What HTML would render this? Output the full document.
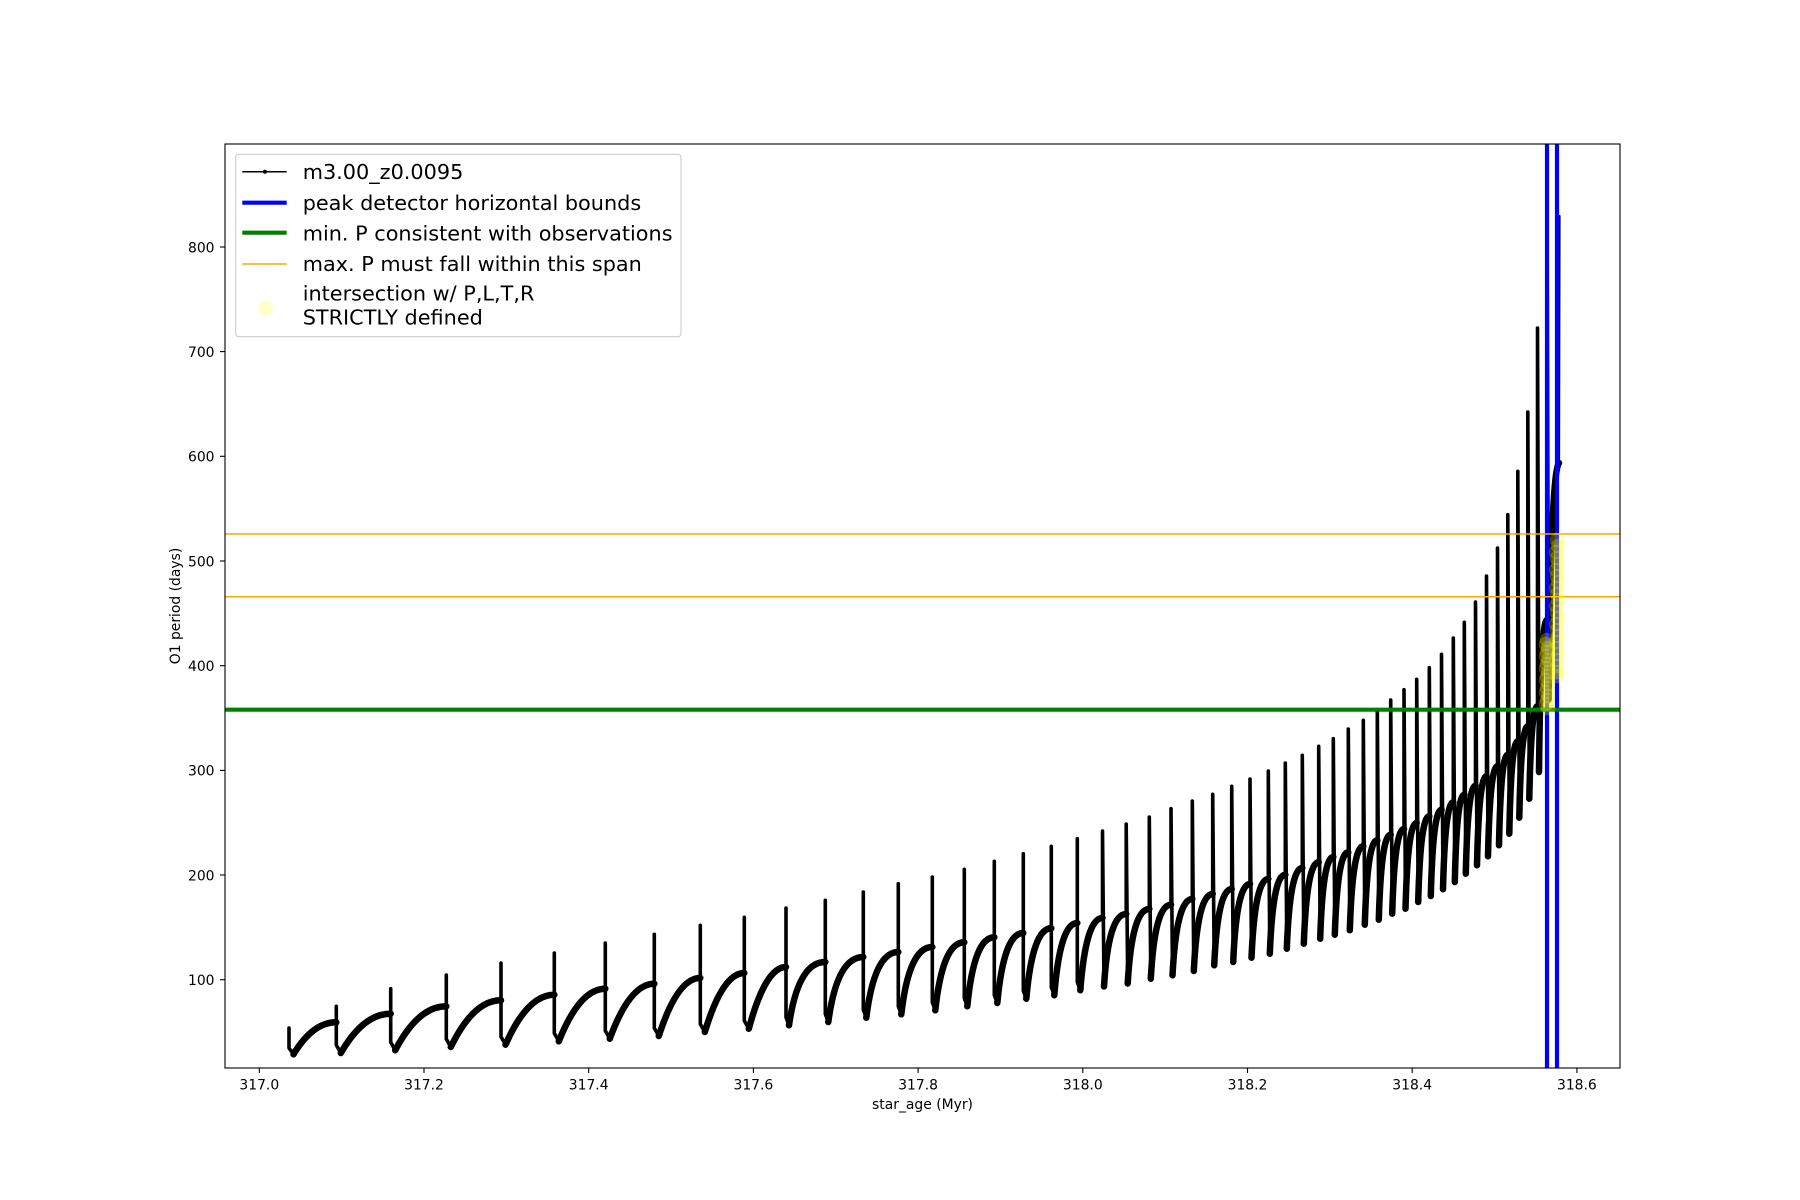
<!DOCTYPE html>
<html>
<head>
<meta charset="utf-8">
<style>
html,body{margin:0;padding:0;background:#fff;}
svg{display:block;}
text{font-family:"DejaVu Sans","Liberation Sans",sans-serif;fill:#000;}
</style>
</head>
<body>
<svg width="1800" height="1200" viewBox="0 0 1800 1200" xmlns="http://www.w3.org/2000/svg">
<rect x="0" y="0" width="1800" height="1200" fill="#fff"/>
<path fill="none" stroke="#000" stroke-width="6.5" stroke-linecap="round" stroke-linejoin="round" d="M293.5,1054.3 Q312.8,1022.3 336.3,1022.3 M340.8,1053 Q363.3,1013.7 390.7,1013.7 M395.2,1050.3 Q418.2,1006.3 446.3,1006.3 M450.8,1047 Q473.4,1000.3 501,1000.3 M505.5,1044.7 Q527.5,994.7 554.3,994.7 M558.8,1041.3 Q579.7,988.7 605.3,988.7 M609.8,1038.7 Q629.8,983.7 654.3,983.7 M658.8,1036 Q677.5,978 700.3,978 M704.8,1032 Q722.6,973 744.3,973 M748.8,1028.7 Q765.5,967 786,967 M789,1025.3 Q798.1,962 825.3,962 M828.3,1022 Q837,957 863.3,957 M866.3,1017.7 Q874.3,952 898.3,952 M901.3,1014.3 Q909,947 932.3,947 M935.3,1010.3 Q942.5,942.3 964.3,942.3 M967.3,1006.3 Q974,937.3 994.3,937.3 M997.3,1003 Q1003.8,933 1023.3,933 M1026.3,998.7 Q1032.5,928.3 1051.3,928.3 M1054.3,995.3 Q1060,923 1077.3,923 M1080.3,990.3 Q1085.9,918 1102.5,918 M1104,986.5 Q1108.4,914 1126.2,914 M1127.7,983.5 Q1132,909 1149.3,909 M1150.8,978.7 Q1154.8,904.7 1171,904.7 M1172.5,975.3 Q1176.5,899 1192.3,899 M1193.8,971 Q1197.6,894 1212.7,894 M1214.2,965.3 Q1217.7,889 1231.7,889 M1233.2,962 Q1236.6,884 1250,884 M1251.5,957.7 Q1254.9,879 1268.3,879 M1269.8,953.7 Q1272.9,874.7 1285.3,874.7 M1286.8,948.7 Q1289.9,868 1302.3,868 M1303.8,943.7 Q1306.8,862.3 1318.7,862.3 M1320.2,938.7 Q1322.8,857 1333.3,857 M1334.8,934.7 Q1337.5,852.3 1348.3,852.3 M1349.8,930.3 Q1352.5,846.3 1363.3,846.3 M1364.8,924.7 Q1367.3,840.3 1377.3,840.3 M1378.8,919.7 Q1381.2,834.7 1390.7,834.7 M1392.2,913.7 Q1394.6,829 1404,829 M1405.5,908.7 Q1407.7,823 1416.7,823 M1418.2,902 Q1420.4,816.3 1429.3,816.3 M1430.8,896 Q1433,809.7 1441.5,809.7 M1443,889.3 Q1445.1,802.3 1453.3,802.3 M1454.8,882 Q1456.7,794.7 1464.3,794.7 M1465.8,873.7 Q1467.7,785.7 1475.5,785.7 M1477,865.3 Q1478.9,776.3 1486.5,776.3 M1488,856.3 Q1489.9,766.3 1497.5,766.3 M1499,845.3 Q1500.8,754.7 1507.8,754.7 M1509.3,833.7 Q1511,741.3 1517.8,741.3 M1519.3,817.7 Q1521,726.3 1527.8,726.3 M1529.3,798.7 Q1531,706.3 1537.5,706.3 M1539,772 Q1540.6,620 1547,620 M1548.5,700 Q1551,470 1559,463"/>
<path fill="none" stroke="#000" stroke-width="3.6" stroke-linecap="round" stroke-linejoin="round" d="M289,1028 L289,1048 L293.5,1054.3 M336.3,1022.3 L336.3,1006.3 L336.3,1045 L340.8,1053 M390.7,1013.7 L390.7,988.7 L390.7,1042.3 L395.2,1050.3 M446.3,1006.3 L446.3,975 L446.3,1039 L450.8,1047 M501,1000.3 L501,963 L501,1036.7 L505.5,1044.7 M554.3,994.7 L554.3,953 L554.3,1033.3 L558.8,1041.3 M605.3,988.7 L605.3,943 L605.3,1030.7 L609.8,1038.7 M654.3,983.7 L654.3,934.3 L654.3,1028 L658.8,1036 M700.3,978 L700.3,925.3 L700.3,1024 L704.8,1032 M744.3,973 L744.3,917.3 L744.3,1020.7 L748.8,1028.7 M786,967 L786,908 L786,1017.3 L789,1025.3 M825.3,962 L825.3,900.3 L825.3,1014 L828.3,1022 M863.3,957 L863.3,892 L863.3,1009.7 L866.3,1017.7 M898.3,952 L898.3,883.7 L898.3,1006.3 L901.3,1014.3 M932.3,947 L932.3,877 L932.3,1002.3 L935.3,1010.3 M964.3,942.3 L964.3,869.3 L964.3,998.3 L967.3,1006.3 M994.3,937.3 L994.3,861.3 L994.3,995 L997.3,1003 M1023.3,933 L1023.3,853.7 L1023.3,990.7 L1026.3,998.7 M1051.3,928.3 L1051.3,846.3 L1051.3,987.3 L1054.3,995.3 M1077.3,923 L1077.3,838.7 L1077.3,982.3 L1080.3,990.3 M1102.5,918 L1102.5,831 L1104,986.5 M1126.2,914 L1126.2,824 L1127.7,983.5 M1149.3,909 L1149.3,817 L1150.8,978.7 M1171,904.7 L1171,808.7 L1172.5,975.3 M1192.3,899 L1192.3,801 L1193.8,971 M1212.7,894 L1212.7,794.3 L1214.2,965.3 M1231.7,889 L1231.7,786.3 L1233.2,962 M1250,884 L1250,779 L1251.5,957.7 M1268.3,879 L1268.3,771 L1269.8,953.7 M1285.3,874.7 L1285.3,763 L1286.8,948.7 M1302.3,868 L1302.3,755.3 L1303.8,943.7 M1318.7,862.3 L1318.7,746.3 L1320.2,938.7 M1333.3,857 L1333.3,738.7 L1334.8,934.7 M1348.3,852.3 L1348.3,729 L1349.8,930.3 M1363.3,846.3 L1363.3,720.3 L1364.8,924.7 M1377.3,840.3 L1377.3,709.7 L1378.8,919.7 M1390.7,834.7 L1390.7,700 L1392.2,913.7 M1404,829 L1404,689.7 L1405.5,908.7 M1416.7,823 L1416.7,679.3 L1418.2,902 M1429.3,816.3 L1429.3,667.7 L1430.8,896 M1441.5,809.7 L1441.5,654.3 L1443,889.3 M1453.3,802.3 L1453.3,638 L1454.8,882 M1464.3,794.7 L1464.3,622.3 L1465.8,873.7 M1475.5,785.7 L1475.5,602 L1477,865.3 M1486.5,776.3 L1486.5,576 L1488,856.3 M1497.5,766.3 L1497.5,548 L1499,845.3 M1507.8,754.7 L1507.8,514.7 L1509.3,833.7 M1517.8,741.3 L1517.8,471.3 L1519.3,817.7 M1527.8,726.3 L1527.8,412 L1529.3,798.7 M1537.5,706.3 L1537.5,328 L1539,772 M1547,620 L1547,197 L1548.5,700"/>
<path fill="none" stroke="#000" stroke-width="2.2" stroke-linecap="round" d="M1559,463 L1559.5,216"/>
<line x1="1547" y1="144" x2="1547" y2="1068" stroke="#0000ff" stroke-width="4.2"/>
<line x1="1557" y1="144" x2="1557" y2="1068" stroke="#0000ff" stroke-width="4.2"/>
<line x1="225" y1="709.7" x2="1620" y2="709.7" stroke="#008000" stroke-width="4.2"/>
<line x1="225" y1="534" x2="1620" y2="534" stroke="#ffa500" stroke-width="1.5"/>
<line x1="225" y1="596.7" x2="1620" y2="596.7" stroke="#ffa500" stroke-width="1.5"/>
<g fill="#ffff00" fill-opacity="0.25">
<circle cx="1547" cy="640" r="7.3"/><circle cx="1546" cy="644" r="7.3"/><circle cx="1548" cy="648" r="7.3"/><circle cx="1547" cy="652" r="7.3"/><circle cx="1546" cy="656" r="7.3"/><circle cx="1548" cy="660" r="7.3"/><circle cx="1547" cy="664" r="7.3"/><circle cx="1546" cy="668" r="7.3"/><circle cx="1548" cy="672" r="7.3"/><circle cx="1547" cy="676" r="7.3"/><circle cx="1546" cy="680" r="7.3"/><circle cx="1548" cy="684" r="7.3"/><circle cx="1547" cy="688" r="7.3"/><circle cx="1546" cy="692" r="7.3"/><circle cx="1548" cy="696" r="7.3"/><circle cx="1547" cy="700" r="7.3"/><circle cx="1546" cy="704" r="7.3"/><circle cx="1548" cy="708" r="7.3"/>
<circle cx="1557" cy="540" r="7.3"/><circle cx="1558" cy="546" r="7.3"/><circle cx="1556" cy="552" r="7.3"/><circle cx="1557" cy="558" r="7.3"/><circle cx="1558" cy="564" r="7.3"/><circle cx="1556" cy="570" r="7.3"/><circle cx="1557" cy="576" r="7.3"/><circle cx="1558" cy="582" r="7.3"/><circle cx="1556" cy="588" r="7.3"/><circle cx="1557" cy="594" r="7.3"/><circle cx="1558" cy="600" r="7.3"/><circle cx="1556" cy="606" r="7.3"/><circle cx="1557" cy="612" r="7.3"/><circle cx="1558" cy="618" r="7.3"/><circle cx="1556" cy="624" r="7.3"/><circle cx="1557" cy="630" r="7.3"/><circle cx="1558" cy="636" r="7.3"/><circle cx="1556" cy="642" r="7.3"/><circle cx="1557" cy="648" r="7.3"/><circle cx="1558" cy="654" r="7.3"/><circle cx="1556" cy="660" r="7.3"/><circle cx="1557" cy="666" r="7.3"/><circle cx="1558" cy="672" r="7.3"/><circle cx="1557" cy="676" r="7.3"/>
</g>
<rect x="225" y="144" width="1395" height="924" fill="none" stroke="#000" stroke-width="1.1"/>
<g stroke="#000" stroke-width="1.1">
<line x1="259.3" y1="1068" x2="259.3" y2="1073"/><line x1="424" y1="1068" x2="424" y2="1073"/><line x1="588.7" y1="1068" x2="588.7" y2="1073"/><line x1="753.4" y1="1068" x2="753.4" y2="1073"/><line x1="918.1" y1="1068" x2="918.1" y2="1073"/><line x1="1082.8" y1="1068" x2="1082.8" y2="1073"/><line x1="1247.5" y1="1068" x2="1247.5" y2="1073"/><line x1="1412.2" y1="1068" x2="1412.2" y2="1073"/><line x1="1576.9" y1="1068" x2="1576.9" y2="1073"/>
<line x1="220" y1="979.7" x2="225" y2="979.7"/><line x1="220" y1="875" x2="225" y2="875"/><line x1="220" y1="770.4" x2="225" y2="770.4"/><line x1="220" y1="665.7" x2="225" y2="665.7"/><line x1="220" y1="561" x2="225" y2="561"/><line x1="220" y1="456.3" x2="225" y2="456.3"/><line x1="220" y1="351.6" x2="225" y2="351.6"/><line x1="220" y1="247" x2="225" y2="247"/>
</g>
<g font-size="13.9" text-anchor="middle">
<text x="259.3" y="1089.5">317.0</text><text x="424" y="1089.5">317.2</text><text x="588.7" y="1089.5">317.4</text><text x="753.4" y="1089.5">317.6</text><text x="918.1" y="1089.5">317.8</text><text x="1082.8" y="1089.5">318.0</text><text x="1247.5" y="1089.5">318.2</text><text x="1412.2" y="1089.5">318.4</text><text x="1576.9" y="1089.5">318.6</text>
</g>
<g font-size="13.9" text-anchor="end">
<text x="214.5" y="985">100</text><text x="214.5" y="880.3">200</text><text x="214.5" y="775.7">300</text><text x="214.5" y="671">400</text><text x="214.5" y="566.3">500</text><text x="214.5" y="461.6">600</text><text x="214.5" y="356.9">700</text><text x="214.5" y="252.3">800</text>
</g>
<text x="922.5" y="1109" font-size="13.9" text-anchor="middle">star_age (Myr)</text>
<text transform="translate(180,606) rotate(-90)" font-size="13.9" text-anchor="middle">O1 period (days)</text>
<rect x="235.7" y="154.3" width="445.3" height="182.4" rx="3" ry="3" fill="#fff" fill-opacity="0.8" stroke="#cccccc" stroke-width="1.1"/>
<line x1="242.3" y1="171.7" x2="286.7" y2="171.7" stroke="#000" stroke-width="1.5"/>
<circle cx="265" cy="171.7" r="2" fill="#000"/>
<line x1="242.3" y1="202.7" x2="286.7" y2="202.7" stroke="#0000ff" stroke-width="4.2"/>
<line x1="242.3" y1="232.7" x2="286.7" y2="232.7" stroke="#008000" stroke-width="4.2"/>
<line x1="242.3" y1="264" x2="286.7" y2="264" stroke="#ffa500" stroke-width="1.5"/>
<circle cx="265.7" cy="308.3" r="7.3" fill="#ffff00" fill-opacity="0.22"/>
<g font-size="20.8">
<text x="302.7" y="179">m3.00_z0.0095</text>
<text x="302.7" y="210">peak detector horizontal bounds</text>
<text x="302.7" y="240.5">min. P consistent with observations</text>
<text x="302.7" y="271">max. P must fall within this span</text>
<text x="302.7" y="300.7">intersection w/ P,L,T,R</text>
<text x="302.7" y="324.3">STRICTLY defined</text>
</g>
</svg>
</body>
</html>
